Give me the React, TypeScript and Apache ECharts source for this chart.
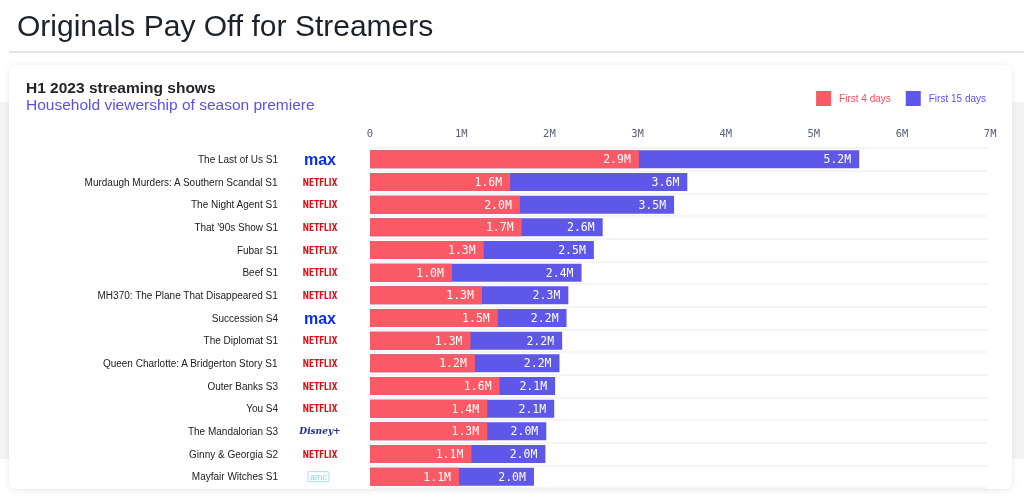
import React, { useEffect, useRef } from "react";
import * as echarts from "echarts";

const shows = [
  "The Last of Us S1",
  "Murdaugh Murders: A Southern Scandal S1",
  "The Night Agent S1",
  "That '90s Show S1",
  "Fubar S1",
  "Beef S1",
  "MH370: The Plane That Disappeared S1",
  "Succession S4",
  "The Diplomat S1",
  "Queen Charlotte: A Bridgerton Story S1",
  "Outer Banks S3",
  "You S4",
  "The Mandalorian S3",
  "Ginny & Georgia S2",
  "Mayfair Witches S1",
];

const platforms = [
  "max", "netflix", "netflix", "netflix", "netflix", "netflix", "netflix", "max",
  "netflix", "netflix", "netflix", "netflix", "disney", "netflix", "amc",
];

// bar lengths (millions of households)
const first4Days = [3.05, 1.59, 1.70, 1.72, 1.29, 0.93, 1.27, 1.45, 1.14, 1.19, 1.47, 1.33, 1.33, 1.15, 1.01];
const first15Days = [5.55, 3.60, 3.45, 2.64, 2.54, 2.40, 2.25, 2.23, 2.18, 2.15, 2.10, 2.09, 2.00, 1.99, 1.86];

// printed value labels
const first4Labels = ["2.9M", "1.6M", "2.0M", "1.7M", "1.3M", "1.0M", "1.3M", "1.5M", "1.3M", "1.2M", "1.6M", "1.4M", "1.3M", "1.1M", "1.1M"];
const first15Labels = ["5.2M", "3.6M", "3.5M", "2.6M", "2.5M", "2.4M", "2.3M", "2.2M", "2.2M", "2.2M", "2.1M", "2.1M", "2.0M", "2.0M", "2.0M"];

const RED = "#f95a65";
const PURPLE = "#5f57e8";
const MONO = '"DejaVu Sans Mono", "Liberation Mono", monospace';
const SANS = '"Liberation Sans", Arial, Helvetica, sans-serif';

export default function App() {
  const ref = useRef<HTMLDivElement>(null);

  useEffect(() => {
    if (!ref.current) return;
    const chart = echarts.init(ref.current, null, { renderer: "svg" });

    const logoText: Record<string, string> = {
      max: "{max|max}",
      netflix: "{netflix|NETFLIX}",
      disney: "{disney|Disney+}",
      amc: "{sa| }{amc|amc}{sb| }",
    };

    chart.setOption({
      animation: false,
      graphic: {
        elements: [
          { type: "rect", z: -10, shape: { x: 0, y: 102, width: 1024, height: 357 }, style: { fill: "#f4f4f5" } },
          { type: "rect", z: -10, shape: { x: 9, y: 51, width: 1015, height: 2 }, style: { fill: "#e3e3e5" } },
          {
            type: "rect",
            z: -9,
            shape: { x: 9, y: 65, width: 1003, height: 424, r: 8 },
            style: { fill: "#ffffff", shadowBlur: 6, shadowColor: "rgba(0,0,0,0.10)", shadowOffsetY: 1 },
          },
          {
            type: "text",
            x: 17,
            y: 25,
            style: {
              text: "Originals Pay Off for Streamers",
              fontSize: 30,
              fontFamily: SANS,
              fill: "#1d2129",
              verticalAlign: "middle",
            },
          },
          {
            type: "text",
            x: 26,
            y: 87,
            style: {
              text: "H1 2023 streaming shows",
              fontSize: 15.5,
              fontWeight: "bold",
              fontFamily: SANS,
              fill: "#23252b",
              verticalAlign: "middle",
            },
          },
          {
            type: "text",
            x: 26,
            y: 104,
            style: {
              text: "Household viewership of season premiere",
              fontSize: 15.5,
              fontFamily: SANS,
              fill: "#5b4ff0",
              verticalAlign: "middle",
            },
          },
        ],
      },
      legend: {
        data: [
          { name: "First 4 days", textStyle: { color: "#f2505e" } },
          { name: "First 15 days", textStyle: { color: "#5b50f0" } },
        ],
        right: 33,
        top: 86,
        icon: "rect",
        itemWidth: 15,
        itemHeight: 15,
        itemGap: 15,
        textStyle: { fontSize: 10, fontFamily: SANS, padding: [0, 0, 0, 3] },
      },
      grid: { left: 370, right: 37, top: 148, bottom: 13 },
      xAxis: {
        type: "value",
        position: "top",
        min: 0,
        max: 7,
        interval: 1,
        axisLine: { show: false },
        axisTick: { show: false },
        splitLine: { show: false },
        axisLabel: {
          formatter: (v: number) => (v === 0 ? "0" : ` ${v}M`),
          fontFamily: MONO,
          fontSize: 10.5,
          color: "#5b6076",
          margin: 10,
        },
      },
      yAxis: {
        type: "category",
        data: shows,
        inverse: true,
        axisLine: { show: false },
        axisTick: { show: false },
        splitLine: { show: true, lineStyle: { color: "#f0f0f2", width: 1.5 } },
        axisLabel: {
          margin: 19,
          formatter: (value: string, idx: number) => `{n|${value}}${logoText[platforms[idx]]}`,
          rich: {
            n: { fontFamily: SANS, fontSize: 10, color: "#222222", padding: [0, 11, 0, 0], verticalAlign: "middle" },
            max: {
              fontFamily: SANS,
              fontWeight: 900,
              fontSize: 16,
              color: "#0a2ff0",
              width: 62,
              align: "center",
              verticalAlign: "middle",
            },
            netflix: {
              fontFamily: '"Liberation Sans Narrow", "Roboto Condensed", "DejaVu Sans Condensed", sans-serif',
              fontWeight: "bold",
              fontSize: 10,
              color: "#e50914",
              width: 62,
              align: "center",
              verticalAlign: "middle",
            },
            disney: {
              fontFamily: '"DejaVu Serif", serif',
              fontStyle: "italic",
              fontWeight: "bold",
              fontSize: 9,
              color: "#1a2c8f",
              width: 62,
              align: "center",
              verticalAlign: "middle",
            },
            sa: { width: 19, fontSize: 8, verticalAlign: "middle" },
            sb: { width: 22, fontSize: 8, verticalAlign: "middle" },
            amc: {
              fontFamily: SANS,
              fontSize: 9,
              color: "#8fd2d4",
              borderColor: "#a8dfe0",
              borderWidth: 1,
              borderRadius: 1,
              padding: [1, 2, 0, 2],
              verticalAlign: "middle",
            },
          },
        },
      },
      series: [
        {
          name: "First 15 days",
          type: "bar",
          data: first15Days,
          barWidth: 18,
          barGap: "-100%",
          z: 2,
          itemStyle: { color: PURPLE },
          label: {
            show: true,
            position: "insideRight",
            distance: 8,
            formatter: (p: any) => first15Labels[p.dataIndex],
            color: "#ffffff",
            fontFamily: MONO,
            fontSize: 11.5,
          },
        },
        {
          name: "First 4 days",
          type: "bar",
          data: first4Days,
          barWidth: 18,
          barGap: "-100%",
          z: 3,
          itemStyle: { color: RED },
          label: {
            show: true,
            position: "insideRight",
            distance: 8,
            formatter: (p: any) => first4Labels[p.dataIndex],
            color: "#ffffff",
            fontFamily: MONO,
            fontSize: 11.5,
          },
        },
      ],
    });

    return () => chart.dispose();
  }, []);

  return <div ref={ref} style={{ position: "fixed", left: 0, top: 0, width: 1024, height: 501 }} />;
}
